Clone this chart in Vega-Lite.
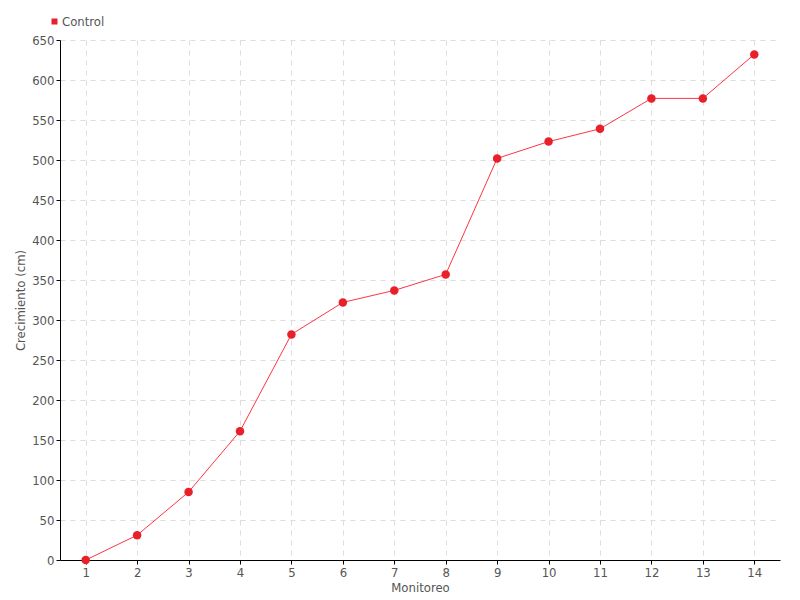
{
  "$schema": "https://vega.github.io/schema/vega-lite/v6.json",
  "width": 720,
  "height": 520,
  "padding": {"left": 60, "top": 40, "right": 20, "bottom": 40},
  "autosize": "none",
  "background": "white",
  "config": {
    "font": "DejaVu Sans Condensed",
    "view": {"stroke": null},
    "axis": {
      "labelColor": "#555555",
      "titleColor": "#555555",
      "labelFontSize": 13,
      "titleFontSize": 13,
      "titleFontWeight": "normal",
      "domainColor": "#000000",
      "tickColor": "#000000",
      "gridColor": "#dddddd",
      "gridDash": [5, 5]
    }
  },
  "data": {
    "values": [
      {"monitoreo": 1, "crecimiento": 0, "serie": "Control"},
      {"monitoreo": 2, "crecimiento": 31, "serie": "Control"},
      {"monitoreo": 3, "crecimiento": 85, "serie": "Control"},
      {"monitoreo": 4, "crecimiento": 161, "serie": "Control"},
      {"monitoreo": 5, "crecimiento": 282, "serie": "Control"},
      {"monitoreo": 6, "crecimiento": 322, "serie": "Control"},
      {"monitoreo": 7, "crecimiento": 337, "serie": "Control"},
      {"monitoreo": 8, "crecimiento": 357, "serie": "Control"},
      {"monitoreo": 9, "crecimiento": 502, "serie": "Control"},
      {"monitoreo": 10, "crecimiento": 523, "serie": "Control"},
      {"monitoreo": 11, "crecimiento": 539, "serie": "Control"},
      {"monitoreo": 12, "crecimiento": 577, "serie": "Control"},
      {"monitoreo": 13, "crecimiento": 577, "serie": "Control"},
      {"monitoreo": 14, "crecimiento": 632, "serie": "Control"}
    ]
  },
  "encoding": {
    "x": {
      "field": "monitoreo",
      "type": "quantitative",
      "scale": {"domain": [0.5, 14.5], "nice": false, "zero": false},
      "axis": {
        "title": "Monitoreo",
        "values": [1,2,3,4,5,6,7,8,9,10,11,12,13,14],
        "tickSize": 4,
        "labelPadding": 2,
        "titlePadding": 2,
        "labelFlush": false
      }
    },
    "y": {
      "field": "crecimiento",
      "type": "quantitative",
      "scale": {"domain": [0, 650], "nice": false},
      "axis": {
        "title": "Crecimiento (cm)",
        "values": [0,50,100,150,200,250,300,350,400,450,500,550,600,650],
        "tickSize": 4,
        "labelPadding": 2,
        "titlePadding": 4
      }
    }
  },
  "layer": [
    {
      "mark": {"type": "line", "color": "#ff3344", "strokeWidth": 1}
    },
    {
      "mark": {"type": "point", "filled": true, "opacity": 1, "size": 72},
      "encoding": {
        "color": {
          "field": "serie",
          "type": "nominal",
          "scale": {"range": ["#e8202a"]},
          "legend": {
            "title": null,
            "orient": "none",
            "legendX": -12,
            "legendY": -25,
            "symbolType": "square",
            "symbolSize": 36,
            "labelFontSize": 13,
            "labelColor": "#555555",
            "labelOffset": 1
          }
        }
      }
    }
  ]
}
